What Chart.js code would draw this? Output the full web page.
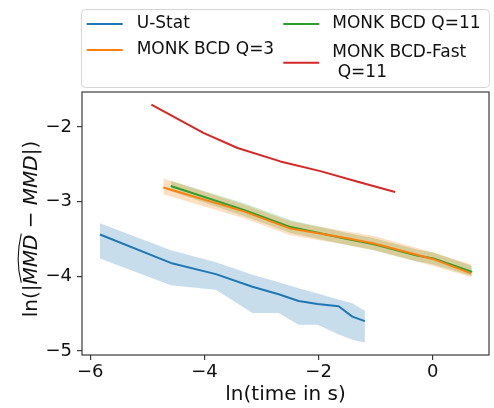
<!DOCTYPE html>
<html>
<head>
<meta charset="utf-8">
<script src="https://cdn.jsdelivr.net/npm/chart.js@4/dist/chart.umd.min.js"></script>
<style>
  html, body { margin: 0; padding: 0; background: #fff; }
  #wrap { position: relative; width: 494px; height: 408px; }
</style>
</head>
<body>
<div id="wrap"><canvas id="myChart" width="494" height="408"></canvas></div>
<script>
// values: x = ln(time in s), y = ln(|MMD^ - MMD|)
const uStatX = [-5.83, -4.59, -3.80, -3.16, -2.70, -2.35, -2.02, -1.65, -1.41, -1.19]
const uStatMean = [-3.44, -3.82, -3.97, -4.14, -4.24, -4.33, -4.37, -4.40, -4.54, -4.60]
const uStatHigh = [-3.29, -3.65, -3.81, -3.98, -4.08, -4.16, -4.23, -4.31, -4.36, -4.46]
const uStatLow = [-3.76, -4.12, -4.18, -4.49, -4.49, -4.65, -4.65, -4.78, -4.85, -4.89]

const bcd3X = [-4.72, -3.31, -2.49, -1.50, -1.03, -0.28, 0.01, 0.67]
const bcd3Mean = [-2.81, -3.13, -3.36, -3.49, -3.56, -3.71, -3.77, -3.96]
const bcd3High = [-2.69, -3.04, -3.27, -3.40, -3.46, -3.62, -3.68, -3.84]
const bcd3Low = [-2.90, -3.22, -3.45, -3.58, -3.65, -3.80, -3.86, -4.01]

const bcd11X = [-4.59, -3.31, -2.49, -1.50, -1.03, -0.28, 0.01, 0.69]
const bcd11Mean = [-2.79, -3.11, -3.34, -3.50, -3.57, -3.72, -3.76, -3.94]
const bcd11High = [-2.72, -3.02, -3.25, -3.42, -3.49, -3.64, -3.68, -3.86]
const bcd11Low = [-2.86, -3.19, -3.42, -3.58, -3.65, -3.80, -3.84, -4.00]

const fastX = [-4.93, -4.01, -3.42, -2.67, -1.97, -1.33, -0.66]
const fastMean = [-1.70, -2.08, -2.28, -2.46, -2.59, -2.73, -2.87]

const xTicks = [-6, -4, -2, 0]
const yTicks = [-5, -4, -3, -2]

const FONT = "'DejaVu Sans', 'Liberation Sans', sans-serif"
const colores = ['#1f77b4', '#ff7f0e', '#2ca02c', '#d62728']
const etiquetas = ['U-Stat', 'MONK BCD Q=3', 'MONK BCD Q=11', 'MONK BCD-Fast\n Q=11']

const pts = (xs, ys) => xs.map((x, i) => ({ x: x, y: ys[i] }))
const menos = v => (v < 0 ? '\u2212' + Math.abs(v) : String(v))

const linea = (label, xs, ys, color) => ({
    label: label,
    data: pts(xs, ys),
    borderColor: color,
    borderWidth: 2,
    pointRadius: 0,
    fill: false,
    order: 1
})

const banda = (xs, hi, lo, fillColor) => [
    { label: '', data: pts(xs, hi), borderWidth: 0, borderColor: 'rgba(0,0,0,0)', pointRadius: 0, fill: false, order: 2 },
    { label: '', data: pts(xs, lo), borderWidth: 0, borderColor: 'rgba(0,0,0,0)', pointRadius: 0, fill: '-1', backgroundColor: fillColor, order: 2 }
]

// frame on all four sides, like matplotlib spines
const marco = {
    id: 'marco',
    afterDatasetsDraw(chart) {
        const { ctx, chartArea: a } = chart
        ctx.save()
        ctx.strokeStyle = '#3a3a3a'
        ctx.lineWidth = 1.2
        ctx.strokeRect(a.left, a.top, a.right - a.left, a.bottom - a.top)
        ctx.restore()
    }
}

// legend box above the axes, two columns
const leyenda = {
    id: 'leyenda',
    afterDraw(chart) {
        const ctx = chart.ctx
        ctx.save()
        const x0 = 81.5, y0 = 9.5, w = 408, h = 78, r = 4
        ctx.beginPath()
        ctx.moveTo(x0 + r, y0)
        ctx.arcTo(x0 + w, y0, x0 + w, y0 + h, r)
        ctx.arcTo(x0 + w, y0 + h, x0, y0 + h, r)
        ctx.arcTo(x0, y0 + h, x0, y0, r)
        ctx.arcTo(x0, y0, x0 + w, y0, r)
        ctx.closePath()
        ctx.fillStyle = 'rgba(255,255,255,0.8)'
        ctx.fill()
        ctx.strokeStyle = '#d6d6d6'
        ctx.lineWidth = 1
        ctx.stroke()

        const items = [
            { c: 0, hx: 86.7, tx: 136.7, y: 24 },
            { c: 1, hx: 86.7, tx: 136.7, y: 50 },
            { c: 2, hx: 283.3, tx: 332.3, y: 24 },
            { c: 3, hx: 283.3, tx: 332.3, y: 62.7 }
        ]
        ctx.font = '17px ' + FONT
        ctx.fillStyle = '#111'
        ctx.textBaseline = 'middle'
        ctx.textAlign = 'left'
        items.forEach(it => {
            ctx.strokeStyle = colores[it.c]
            ctx.lineWidth = 2
            ctx.beginPath()
            ctx.moveTo(it.hx, it.y)
            ctx.lineTo(it.hx + 36, it.y)
            ctx.stroke()
            const lineas = etiquetas[it.c].split('\n')
            const lh = 19.5
            const top = it.y - (lineas.length - 1) * lh / 2
            lineas.forEach((t, k) => ctx.fillText(t, it.tx, top + k * lh))
        })
        ctx.restore()
    }
}

// rotated y label with italic MMD and a wide hat
const tituloY = {
    id: 'tituloY',
    afterDraw(chart) {
        const ctx = chart.ctx
        const size = 20
        const normal = size + 'px ' + FONT
        const italic = 'italic ' + size + 'px ' + FONT
        const partes = [
            { t: 'ln(|', f: normal },
            { t: 'MMD', f: italic, hat: true },
            { t: ' \u2212 ', f: normal },
            { t: 'MMD', f: italic },
            { t: '|)', f: normal }
        ]
        ctx.save()
        let total = 0
        partes.forEach(p => { ctx.font = p.f; p.w = ctx.measureText(p.t).width; total += p.w })
        ctx.translate(36.5, 229)
        ctx.rotate(-Math.PI / 2)
        ctx.fillStyle = '#111'
        ctx.textBaseline = 'alphabetic'
        ctx.textAlign = 'left'
        let x = -total / 2
        partes.forEach(p => {
            ctx.font = p.f
            ctx.fillText(p.t, x, 0)
            if (p.hat) {
                ctx.strokeStyle = '#111'
                ctx.lineWidth = 1.1
                ctx.beginPath()
                ctx.moveTo(x + 2, -15.2)
                ctx.quadraticCurveTo(x + p.w / 2, -21.5, x + p.w + 1, -15.2)
                ctx.stroke()
            }
            x += p.w
        })
        ctx.restore()
    }
}

const ctx = document.getElementById('myChart')
const myChart = new Chart(ctx, {
    type: 'line',
    data: {
        datasets: [
            linea(etiquetas[0], uStatX, uStatMean, colores[0]),
            linea(etiquetas[1], bcd3X, bcd3Mean, colores[1]),
            linea(etiquetas[2], bcd11X, bcd11Mean, colores[2]),
            linea(etiquetas[3], fastX, fastMean, colores[3]),
            ...banda(uStatX, uStatHigh, uStatLow, 'rgba(31,119,180,0.25)'),
            ...banda(bcd3X, bcd3High, bcd3Low, 'rgba(255,127,14,0.25)'),
            ...banda(bcd11X, bcd11High, bcd11Low, 'rgba(44,160,44,0.25)')
        ]
    },
    options: {
        responsive: false,
        animation: false,
        layout: { padding: { left: 0, right: 5, top: 92, bottom: 0 } },
        elements: { line: { tension: 0, borderJoinStyle: 'round' } },
        plugins: {
            legend: { display: false },
            tooltip: { enabled: false }
        },
        scales: {
            x: {
                type: 'linear',
                min: -6.145,
                max: 0.984,
                afterBuildTicks: s => { s.ticks = xTicks.map(v => ({ value: v })) },
                afterFit: s => { s.height = 53 },
                border: { display: false },
                grid: { drawOnChartArea: false, drawTicks: true, tickLength: 5, color: '#3a3a3a', lineWidth: 1.2 },
                ticks: { font: { family: FONT, size: 18 }, color: '#111', padding: 2, maxRotation: 0, callback: v => menos(v) },
                title: { display: true, text: 'ln(time in s)', color: '#111', font: { family: FONT, size: 20 }, padding: { top: 0, bottom: 1 } }
            },
            y: {
                type: 'linear',
                min: -5.054,
                max: -1.53,
                afterBuildTicks: s => { s.ticks = yTicks.map(v => ({ value: v })) },
                afterFit: s => { s.width = 82 },
                border: { display: false },
                grid: { drawOnChartArea: false, drawTicks: true, tickLength: 5, color: '#3a3a3a', lineWidth: 1.2 },
                ticks: { font: { family: FONT, size: 18 }, color: '#111', padding: 5, callback: v => menos(v) }
            }
        }
    },
    plugins: [marco, leyenda, tituloY]
})
</script>
</body>
</html>
